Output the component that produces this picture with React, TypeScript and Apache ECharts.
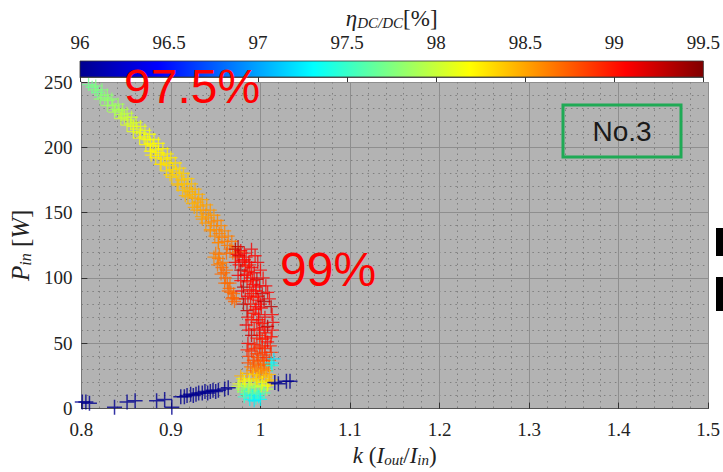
import { useEffect, useRef } from "react";
import * as echarts from "echarts";

// ---- axes ----
const kRange = [0.8, 1.5];
const pRange = [0, 250];
const etaRange = [96, 99.5];
const jetColors = ["#00008F", "#0000FF", "#0080FF", "#00FFFF", "#80FF80", "#FFFF00", "#FF8000", "#FF0000", "#800000"];

// ---- data: [k, Pin (W), eta (%)] ----
const upperBranch = [
  [0.808, 248, 97.7], [0.812, 246, 97.7], [0.815, 244, 97.75], [0.818, 242, 97.7], [0.822, 240, 97.75],
  [0.826, 238, 97.8], [0.83, 236, 97.8], [0.835, 232, 97.85], [0.838, 229, 97.85], [0.842, 228, 97.9],
  [0.845, 225, 97.95], [0.848, 223, 98.0], [0.852, 221, 98.0], [0.855, 218, 98.05], [0.858, 216, 98.1],
  [0.862, 214, 98.1], [0.866, 211, 98.15], [0.87, 208, 98.15], [0.874, 206, 98.15], [0.877, 203, 98.2],
  [0.88, 201, 98.2], [0.883, 198, 98.2], [0.878, 194, 98.25], [0.886, 196, 98.2], [0.889, 194, 98.25],
  [0.892, 191, 98.25], [0.895, 188, 98.3], [0.888, 187, 98.3], [0.898, 186, 98.3], [0.902, 183, 98.3],
  [0.906, 181, 98.35], [0.899, 179, 98.35], [0.909, 178, 98.35], [0.912, 175, 98.4], [0.915, 172, 98.4],
  [0.908, 171, 98.4], [0.918, 169, 98.45], [0.921, 166, 98.45], [0.924, 164, 98.45], [0.916, 163, 98.45],
  [0.927, 161, 98.5], [0.93, 158, 98.5], [0.933, 155, 98.5], [0.926, 154, 98.5], [0.936, 152, 98.55],
  [0.939, 149, 98.55], [0.942, 146, 98.55], [0.935, 145, 98.55], [0.945, 143, 98.6], [0.948, 140, 98.6],
  [0.951, 137, 98.6], [0.944, 136, 98.6], [0.954, 134, 98.62], [0.957, 131, 98.62], [0.96, 128, 98.65],
  [0.953, 127, 98.65], [0.963, 125, 98.65], [0.966, 122, 98.7], [0.969, 119, 98.7], [0.962, 119, 98.7],
  [0.972, 116, 98.7],
];

const upperBranchOuter = [
  [0.816, 247, 97.75], [0.823, 244, 97.75], [0.829, 240, 97.8], [0.834, 237, 97.8], [0.841, 233, 97.85],
  [0.846, 229, 97.9], [0.851, 226, 97.95], [0.856, 223, 98.0], [0.861, 219, 98.05], [0.866, 216, 98.1],
  [0.871, 213, 98.1], [0.876, 210, 98.15], [0.881, 206, 98.15], [0.886, 203, 98.2], [0.891, 199, 98.2],
  [0.896, 195, 98.25], [0.9, 192, 98.25], [0.905, 188, 98.3], [0.91, 184, 98.3], [0.914, 180, 98.35],
  [0.919, 176, 98.35], [0.923, 172, 98.4], [0.927, 168, 98.45], [0.931, 164, 98.45], [0.935, 160, 98.5],
  [0.94, 156, 98.5], [0.944, 152, 98.55], [0.948, 148, 98.55], [0.952, 144, 98.6], [0.956, 140, 98.6],
  [0.96, 136, 98.6], [0.964, 132, 98.62], [0.968, 128, 98.65], [0.972, 124, 98.65], [0.976, 120, 98.7],
];

const upperBranchInner = [
  [0.821, 237, 97.8], [0.829, 232, 97.85], [0.837, 227, 97.9], [0.844, 222, 98.0], [0.851, 217, 98.05],
  [0.858, 212, 98.1], [0.865, 207, 98.15], [0.872, 202, 98.2], [0.877, 197, 98.2], [0.883, 192, 98.25],
  [0.889, 187, 98.3], [0.895, 182, 98.3], [0.901, 177, 98.35], [0.907, 172, 98.4], [0.913, 167, 98.4],
  [0.919, 162, 98.45], [0.924, 157, 98.45], [0.929, 152, 98.5], [0.934, 147, 98.5], [0.939, 142, 98.55],
  [0.944, 137, 98.55], [0.949, 132, 98.6], [0.953, 127, 98.6],
];

const orangeBranch = [
  [0.95, 119, 98.65], [0.953, 115, 98.65], [0.955, 111, 98.65], [0.957, 108, 98.7], [0.959, 104, 98.7],
  [0.961, 100, 98.7], [0.963, 96, 98.7], [0.965, 92, 98.7], [0.967, 89, 98.7], [0.969, 85, 98.72],
  [0.971, 82, 98.72], [0.958, 112, 98.65], [0.962, 106, 98.7], [0.948, 116, 98.6], [0.952, 110, 98.65],
  [0.956, 103, 98.7], [0.96, 96, 98.7], [0.964, 90, 98.7], [0.968, 84, 98.72], [0.954, 118, 98.65],
  [0.966, 96, 98.7], [0.97, 88, 98.72], [0.973, 84, 98.72],
];

const redBranch = [
  [0.975, 124, 99.3], [0.978, 121, 99.1], [0.982, 119, 99.05], [0.976, 117, 99.2], [0.984, 116, 99.05],
  [0.98, 113, 99.05], [0.987, 112, 99.1], [0.983, 109, 99.0], [0.99, 108, 99.05], [0.978, 106, 99.3],
  [0.986, 105, 99.0], [0.993, 104, 99.1], [0.982, 102, 99.05], [0.989, 100, 99.05], [0.996, 99, 99.2],
  [0.985, 97, 99.0], [0.992, 95, 99.05], [0.999, 94, 99.1], [0.981, 93, 99.3], [0.988, 91, 99.0],
  [0.995, 90, 99.05], [1.002, 88, 99.2], [0.986, 86, 99.05], [0.992, 85, 99.0], [0.998, 83, 99.05],
  [1.004, 82, 99.3], [0.989, 80, 99.0], [0.995, 78, 99.05], [1.001, 77, 99.05], [0.985, 75, 99.25],
  [0.992, 73, 99.0], [0.998, 72, 99.05], [1.005, 70, 99.1], [0.99, 68, 99.0], [0.996, 66, 99.05],
  [1.002, 65, 99.0], [1.008, 63, 99.3], [0.993, 61, 99.0], [0.999, 60, 99.05], [1.005, 58, 99.0],
  [0.99, 56, 99.25], [0.996, 54, 99.0], [1.002, 53, 98.95], [1.008, 51, 99.05], [0.993, 49, 98.95],
  [0.999, 47, 98.9], [1.005, 46, 98.95], [0.99, 44, 98.9], [0.996, 42, 98.85], [1.002, 41, 98.85],
  [1.007, 39, 98.9], [0.992, 37, 98.8], [0.998, 36, 98.75], [1.004, 34, 98.75], [0.989, 32, 98.7],
  [0.995, 31, 98.65], [1.001, 30, 98.6], [1.007, 29, 98.6],
];

const redBranchEdges = [
  [0.972, 122, 99.3], [0.974, 118, 99.05], [0.972, 112, 99.1], [0.976, 110, 99.05], [0.975, 102, 99.1],
  [0.978, 98, 99.05], [0.979, 90, 99.05], [0.983, 84, 99.1], [0.981, 80, 99.3], [0.986, 70, 99.05],
  [0.984, 64, 99.1], [0.987, 60, 99.05], [0.986, 50, 99.1], [0.985, 45, 98.95], [0.987, 40, 98.85],
  [0.986, 35, 98.8], [0.99, 122, 99.1], [0.994, 117, 99.05], [0.997, 112, 99.1], [1.0, 106, 99.05],
  [1.003, 100, 99.05], [1.006, 94, 99.1], [1.008, 89, 99.05], [1.01, 84, 99.05], [1.012, 78, 99.3],
  [1.013, 72, 99.05], [1.014, 66, 99.1], [1.013, 60, 99.05], [1.012, 55, 99.0], [1.011, 48, 98.95],
  [1.012, 43, 98.9], [1.01, 37, 98.8], [1.009, 33, 98.7],
  [0.982, 114, 99.05], [0.988, 110, 99.0], [0.985, 103, 99.05], [0.991, 98, 99.0], [0.995, 93, 99.05],
  [0.99, 88, 99.0], [0.997, 86, 99.0], [1.0, 80, 99.05], [0.994, 76, 99.0], [0.998, 68, 99.0],
  [1.004, 62, 99.05], [0.999, 56, 98.95], [1.006, 54, 99.0], [1.002, 48, 98.95], [0.994, 46, 98.9],
  [1.005, 43, 98.85], [0.997, 39, 98.8], [1.003, 37, 98.8], [0.993, 34, 98.75], [1.0, 33, 98.7],
  [1.005, 31, 98.65], [0.991, 29, 98.6], [0.997, 28, 98.6], [1.003, 27, 98.55],
];

const bottomCluster = [
  [0.985, 27, 98.5], [0.992, 26, 98.4], [0.999, 25, 98.45], [1.006, 24, 98.4], [0.98, 23, 98.3],
  [0.988, 22, 98.25], [0.995, 21, 98.3], [1.002, 20, 98.2], [1.009, 21, 98.35], [0.976, 19, 98.1],
  [0.983, 18, 98.0], [0.99, 17, 97.95], [0.997, 18, 98.05], [1.004, 17, 98.1], [0.979, 15, 97.8],
  [0.986, 14, 97.7], [0.993, 13, 97.6], [1.0, 14, 97.7], [1.007, 15, 97.9], [0.984, 11, 97.45],
  [0.991, 10, 97.4], [0.998, 9, 97.35], [0.988, 7, 97.3], [0.995, 8, 97.45],
  [0.978, 25, 98.45], [0.982, 21, 98.2], [0.975, 17, 98.0], [0.981, 13, 97.75], [0.987, 19, 98.1],
  [0.994, 16, 97.9], [1.001, 17, 98.0], [1.008, 18, 98.2], [1.012, 22, 98.4], [0.99, 12, 97.6],
  [0.997, 11, 97.55], [1.004, 12, 97.6], [0.982, 9, 97.5], [0.993, 6, 97.25], [1.0, 7, 97.3],
  [0.987, 16, 97.85], [1.01, 26, 98.45], [0.996, 23, 98.35],
  [1.012, 35, 97.3], [1.015, 38, 97.2], [1.013, 33, 97.4],
];

const lowBranch = [
  [0.801, 5, 95.8], [0.805, 5, 95.8], [0.809, 4, 95.8], [0.837, 1, 95.8], [0.851, 5, 95.8],
  [0.86, 6, 95.8], [0.884, 6, 95.8], [0.893, 7, 95.8], [0.901, 1, 95.8], [0.911, 9, 95.8],
  [0.915, 9, 95.8], [0.918, 10, 95.8], [0.922, 11, 95.8], [0.925, 10, 95.8], [0.928, 11, 95.8],
  [0.931, 12, 95.8], [0.935, 12, 95.8], [0.938, 13, 95.8], [0.941, 12, 95.8], [0.944, 13, 95.8],
  [0.947, 14, 95.8], [0.95, 13, 95.8], [0.953, 14, 95.8], [0.96, 15, 95.8], [0.964, 16, 95.8],
  [1.016, 20, 95.8], [1.02, 19, 95.8], [1.029, 21, 95.8], [1.033, 21, 95.8],
];

const PLUS = "path://M0,5.4H12V6.6H0Z M5.4,0H6.6V12H5.4Z";
const SERIF = "Liberation Serif";

export default function App() {
  const ref = useRef<HTMLDivElement>(null);
  useEffect(() => {
    if (!ref.current) return;
    const chart = echarts.init(ref.current, null, { renderer: "svg" });
    const jetStops = jetColors.map((c, i) => ({ offset: i / (jetColors.length - 1), color: c }));
    const rich = (big: number, small: number) => ({
      i: { fontFamily: SERIF, fontStyle: "italic", fontSize: big, color: "#222" },
      n: { fontFamily: SERIF, fontSize: big, color: "#222" },
      s: { fontFamily: SERIF, fontStyle: "italic", fontSize: small, color: "#222", verticalAlign: "bottom", padding: [9, 0, 0, 0] },
    });
    const tickLabel = (margin: number) => ({
      margin, fontFamily: SERIF, fontSize: 19, color: "#222",
    });
    chart.setOption({
      animation: false,
      backgroundColor: "#ffffff",
      textStyle: { fontFamily: SERIF },
      grid: [
        { left: 80, top: 82, width: 630, height: 331, show: true, backgroundColor: "#b3b3b3", borderWidth: 0 },
        {
          left: 80, top: 61, width: 630, height: 16, show: true, borderColor: "#333", borderWidth: 0.8,
          backgroundColor: { type: "linear", x: 0, y: 0, x2: 1, y2: 0, colorStops: jetStops },
        },
      ],
      xAxis: [
        {
          gridIndex: 0, type: "value", min: kRange[0], max: kRange[1], interval: 0.1,
          axisLine: { show: true, onZero: false, lineStyle: { color: "#555", width: 1 } },
          axisTick: { show: true, inside: true, length: 6, lineStyle: { color: "#333" } },
          axisLabel: tickLabel(11),
          splitLine: { show: true, lineStyle: { color: "#8e8e8e", width: 1 } },
          minorTick: { show: false, splitNumber: 5 },
          minorSplitLine: { show: true, lineStyle: { color: "#7f7f7f", width: 1, type: [1.5, 4] } },
          name: "{i|k} {n|(}{i|I}{s|out}{n|/}{i|I}{s|in}{n|)}",
          nameLocation: "middle", nameGap: 33,
          nameTextStyle: { fontFamily: SERIF, fontSize: 23, color: "#222", rich: rich(23, 15) },
        },
        {
          gridIndex: 1, type: "value", position: "top", min: etaRange[0], max: etaRange[1], interval: 0.5,
          axisLine: { show: true, lineStyle: { color: "#333", width: 0.8 } },
          axisTick: { show: true, inside: true, length: 5, lineStyle: { color: "#333" } },
          axisLabel: tickLabel(9),
          splitLine: { show: false },
          name: "{i|η}{s|DC/DC}{n|[%]}",
          nameLocation: "middle", nameGap: 31,
          nameTextStyle: { fontFamily: SERIF, fontSize: 23, color: "#222", rich: rich(23, 15) },
        },
      ],
      yAxis: [
        {
          gridIndex: 0, type: "value", min: pRange[0], max: pRange[1], interval: 50,
          axisLine: { show: true, onZero: false, lineStyle: { color: "#777", width: 1 } },
          axisTick: { show: true, inside: true, length: 6, lineStyle: { color: "#333" } },
          axisLabel: tickLabel(9),
          splitLine: { show: true, lineStyle: { color: "#8e8e8e", width: 1 } },
          minorTick: { show: false, splitNumber: 5 },
          minorSplitLine: { show: true, lineStyle: { color: "#7f7f7f", width: 1, type: [1.5, 4] } },
          name: "{i|P}{s|in} {n|[}{i|W}{n|]}",
          nameLocation: "middle", nameGap: 40, nameRotate: 90,
          nameTextStyle: { fontFamily: SERIF, fontSize: 25, color: "#222", rich: rich(25, 16) },
        },
        { gridIndex: 1, type: "value", min: 0, max: 1, show: false },
      ],
      visualMap: {
        type: "continuous", show: false, min: etaRange[0], max: etaRange[1], dimension: 2,
        seriesIndex: [0, 1], inRange: { color: jetColors },
      },
      series: [
        {
          type: "scatter", xAxisIndex: 0, yAxisIndex: 0, symbol: PLUS, symbolSize: 13,
          data: [
            ...upperBranch, ...upperBranchOuter, ...upperBranchInner, ...orangeBranch,
            ...redBranchEdges, ...redBranch, ...bottomCluster,
          ],
        },
        {
          type: "scatter", xAxisIndex: 0, yAxisIndex: 0, symbol: PLUS, symbolSize: 15,
          data: lowBranch,
        },
      ],
      graphic: [
        { type: "text", z: 100, left: 124, top: 62, style: { text: "97.5%", fill: "#ff0000", font: "48px 'Liberation Sans', Arial, sans-serif" } },
        { type: "text", z: 100, left: 280, top: 245, style: { text: "99%", fill: "#ff0000", font: "48px 'Liberation Sans', Arial, sans-serif" } },
        { type: "rect", z: 100, shape: { x: 563, y: 105, width: 118, height: 52 }, style: { fill: "none", stroke: "#1faa55", lineWidth: 3 } },
        { type: "text", z: 100, x: 622, y: 131, style: { text: "No.3", fill: "#1a1a1a", font: "28px 'Liberation Sans', Arial, sans-serif", align: "center", verticalAlign: "middle" } },
        { type: "rect", z: 100, shape: { x: 716, y: 228, width: 8, height: 28 }, style: { fill: "#000" } },
        { type: "rect", z: 100, shape: { x: 716, y: 277, width: 8, height: 34 }, style: { fill: "#000" } },
      ],
    });
    return () => chart.dispose();
  }, []);
  return <div ref={ref} style={{ width: 723, height: 472, position: "absolute", left: 0, top: 0 }} />;
}
